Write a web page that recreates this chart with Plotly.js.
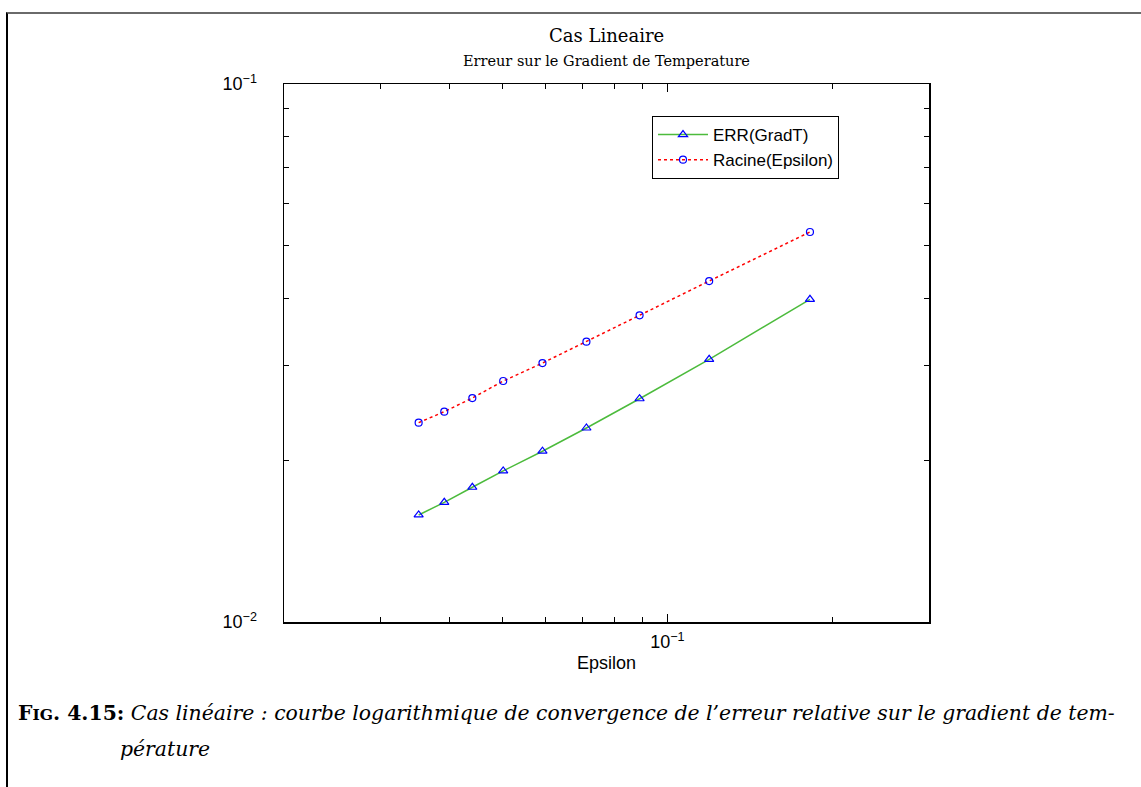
<!DOCTYPE html>
<html>
<head>
<meta charset="utf-8">
<script src="https://cdn.plot.ly/plotly-3.0.1.min.js"></script>
<style>
html,body{margin:0;padding:0;background:#fff;overflow:hidden;}
#plot{width:1141px;height:787px;position:absolute;left:0;top:0;}
#frame{position:absolute;left:6px;top:12px;width:1200px;height:800px;border-top:2px solid #6a6a6a;border-left:2px solid #000;pointer-events:none;}
</style>
</head>
<body>
<div id="plot"></div>
<div id="frame"></div>
<script>
// Data
const epsilon = [0.0352, 0.0392, 0.0441, 0.0502, 0.0592, 0.0712, 0.0890, 0.1192, 0.1820];
const errGradT = [0.01581, 0.01669, 0.01780, 0.01909, 0.02077, 0.02294, 0.02600, 0.03078, 0.03979];
const racineEps = [0.02347, 0.02460, 0.02608, 0.02805, 0.03029, 0.03319, 0.03716, 0.04303, 0.05308];

const xMajorVals = [0.1];
const xMajorText = ['10<sup>−1</sup>'];
const xMinorVals = [0.03, 0.04, 0.05, 0.06, 0.07, 0.08, 0.09, 0.2];
const yMajorVals = [0.01, 0.1];
const yMajorText = ['10<sup>−2</sup>', '10<sup>−1</sup>'];
const yMinorVals = [0.02, 0.03, 0.04, 0.05, 0.06, 0.07, 0.08, 0.09];

const titleText = 'Cas Lineaire';
const subtitleText = 'Erreur sur le Gradient de Temperature';
const xTitle = 'Epsilon';
const seriesNames = ['ERR(GradT)', 'Racine(Epsilon)'];
const captionLine1 = '<b>F<span style="font-size:15.5px">IG</span>. 4.15:</b> <i>Cas linéaire : courbe logarithmique de convergence de l’erreur relative sur le gradient de tem-</i>';
const captionLine2 = '<i>pérature</i>';

const sansFont = 'Liberation Sans, Arial, sans-serif';
const serifFont = 'DejaVu Serif, serif';

const traces = [
  {
    x: epsilon, y: errGradT, name: seriesNames[0], type: 'scatter', mode: 'lines+markers',
    line: {color: '#4cbb3c', width: 1.5},
    marker: {symbol: 'triangle-up-open', size: 8, color: '#0000ff', line: {color: '#0000ff', width: 1.2}}
  },
  {
    x: epsilon, y: racineEps, name: seriesNames[1], type: 'scatter', mode: 'lines+markers',
    line: {color: '#ff0000', width: 1.5, dash: 'dot'},
    marker: {symbol: 'circle-open', size: 7, color: '#0000ff', line: {color: '#0000ff', width: 1.2}}
  }
];

const L = 284, R = 929, T = 84, B = 622;
const W = 1141, H = 787;
const px2x = p => (p - L) / (R - L);
const px2y = p => (B - p) / (B - T);

const layout = {
  width: W, height: H,
  margin: {l: L, r: W - R, t: T, b: H - B, pad: 0},
  paper_bgcolor: '#fff', plot_bgcolor: '#fff',
  showlegend: true,
  legend: {
    x: px2x(652), y: px2y(116), xanchor: 'left', yanchor: 'top',
    bgcolor: '#fff', bordercolor: '#000', borderwidth: 1,
    font: {family: sansFont, size: 17, color: '#000'},
    tracegroupgap: 0, itemwidth: 50
  },
  xaxis: {
    type: 'log', range: [Math.log10(0.02), Math.log10(0.3)],
    tickmode: 'array', tickvals: xMajorVals, ticktext: xMajorText,
    ticks: 'inside', ticklen: 8, tickwidth: 1, tickcolor: '#000',
    showline: true, linecolor: '#000', linewidth: 1.5, mirror: 'ticks',
    showgrid: false, zeroline: false,
    tickfont: {family: sansFont, size: 18, color: '#000'},
    ticklabelstandoff: 3,
    minor: {tickmode: 'array', tickvals: xMinorVals, ticks: 'inside', ticklen: 5, tickwidth: 1, tickcolor: '#000', showgrid: false},
    title: {text: xTitle, font: {family: sansFont, size: 18, color: '#000'}, standoff: 5}
  },
  yaxis: {
    type: 'log', range: [-2, -1],
    tickmode: 'array', tickvals: yMajorVals, ticktext: yMajorText,
    ticks: 'inside', ticklen: 8, tickwidth: 1, tickcolor: '#000',
    showline: true, linecolor: '#000', linewidth: 1.5, mirror: 'ticks',
    showgrid: false, zeroline: false,
    tickfont: {family: sansFont, size: 18, color: '#000'},
    minor: {tickmode: 'array', tickvals: yMinorVals, ticks: 'inside', ticklen: 5, tickwidth: 1, tickcolor: '#000', showgrid: false},
    ticklabelstandoff: 22
  },
  annotations: [
    {text: titleText, xref: 'paper', yref: 'paper', x: 0.5, y: px2y(36), xanchor: 'center', yanchor: 'middle', showarrow: false,
     font: {family: serifFont, size: 18, color: '#000'}},
    {text: subtitleText, xref: 'paper', yref: 'paper', x: 0.5, y: px2y(61), xanchor: 'center', yanchor: 'middle', showarrow: false,
     font: {family: serifFont, size: 14.5, color: '#000'}},
    {text: captionLine1, xref: 'paper', yref: 'paper', x: px2x(16), y: px2y(713), xanchor: 'left', yanchor: 'middle', showarrow: false,
     font: {family: serifFont, size: 20.4, color: '#000'}},
    {text: captionLine2, xref: 'paper', yref: 'paper', x: px2x(118), y: px2y(749), xanchor: 'left', yanchor: 'middle', showarrow: false,
     font: {family: serifFont, size: 20.4, color: '#000'}}
  ]
};

Plotly.newPlot('plot', traces, layout, {displayModeBar: false, staticPlot: true});
</script>
</body>
</html>
